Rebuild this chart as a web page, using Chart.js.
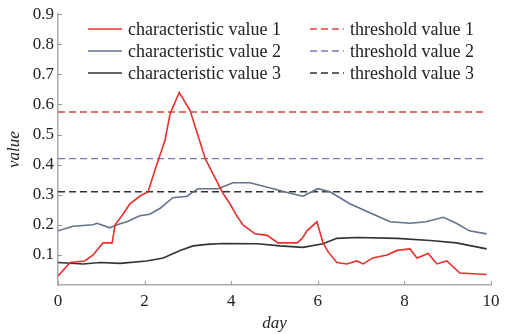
<!DOCTYPE html>
<html>
<head>
<meta charset="utf-8">
<script src="https://cdn.jsdelivr.net/npm/chart.js@4.4.0/dist/chart.umd.min.js"></script>
<style>
  html, body { margin: 0; padding: 0; background: #fff; }
  #wrap { width: 514px; height: 334px; }
</style>
</head>
<body>
<div id="wrap"><canvas id="myChart" width="514" height="334"></canvas></div>
<script>
// series 1 (red)
const dayRed = [0, 0.28, 0.62, 0.81, 1.04, 1.25, 1.32, 1.5, 1.66, 1.89, 2.08, 2.28, 2.47, 2.59, 2.8, 3.05, 3.28, 3.4, 3.63, 3.81, 3.97, 4.13, 4.27, 4.55, 4.83, 5.08, 5.52, 5.64, 5.75, 5.98, 6.12, 6.24, 6.44, 6.67, 6.9, 7.05, 7.27, 7.6, 7.83, 8.13, 8.29, 8.55, 8.75, 8.98, 9.28, 9.9];
const valRed = [0.03, 0.075, 0.08, 0.10, 0.14, 0.14, 0.20, 0.235, 0.27, 0.295, 0.31, 0.40, 0.48, 0.57, 0.64, 0.58, 0.475, 0.42, 0.355, 0.305, 0.27, 0.23, 0.20, 0.17, 0.165, 0.14, 0.14, 0.155, 0.18, 0.21, 0.14, 0.11, 0.075, 0.07, 0.08, 0.07, 0.09, 0.10, 0.115, 0.12, 0.09, 0.105, 0.07, 0.08, 0.04, 0.035];

// series 2 (slate)
const dayBlue = [0, 0.35, 0.81, 0.9, 1.2, 1.36, 1.59, 1.89, 2.12, 2.36, 2.65, 2.98, 3.23, 3.44, 3.7, 4.04, 4.43, 4.97, 5.36, 5.66, 6.0, 6.28, 6.74, 7.2, 7.67, 8.13, 8.5, 8.9, 9.2, 9.5, 9.9];
const valBlue = [0.18, 0.195, 0.20, 0.205, 0.19, 0.20, 0.21, 0.23, 0.235, 0.255, 0.29, 0.295, 0.32, 0.32, 0.32, 0.34, 0.34, 0.32, 0.305, 0.295, 0.32, 0.31, 0.27, 0.24, 0.21, 0.205, 0.21, 0.225, 0.205, 0.18, 0.17];

// series 3 (black)
const dayBlack = [0, 0.58, 0.97, 1.43, 2.05, 2.43, 2.82, 3.12, 3.44, 3.81, 4.6, 5.13, 5.66, 6.12, 6.44, 6.9, 7.83, 8.6, 9.2, 9.9];
const valBlack = [0.075, 0.07, 0.075, 0.072, 0.08, 0.09, 0.115, 0.13, 0.135, 0.138, 0.137, 0.13, 0.125, 0.137, 0.155, 0.158, 0.155, 0.148, 0.14, 0.12];

// thresholds
const thresholdDays = [0, 9.9];
const thresholds = [0.575, 0.42, 0.31];

const labels = [
    "characteristic value 1", "characteristic value 2", "characteristic value 3",
    "threshold value 1", "threshold value 2", "threshold value 3"
];

const xTicks = [0, 2, 4, 6, 8, 10];
const yTicks = [0.1, 0.2, 0.3, 0.4, 0.5, 0.6, 0.7, 0.8, 0.9];

const SERIF = "'Liberation Serif', 'DejaVu Serif', serif";

function pts(xs, ys){
    return xs.map(function(x, i){ return {x: x, y: ys[i]}; });
}
function flat(v){
    return thresholdDays.map(function(x){ return {x: x, y: v}; });
}

// legend drawn inside the plot, two columns
const innerLegend = {
    id: "innerLegend",
    afterDatasetsDraw(chart){
        const c = chart.ctx;
        const ds = chart.data.datasets;
        c.save();
        c.font = "18px " + SERIF;
        c.textBaseline = "middle";
        c.fillStyle = "#222";
        for (let i = 0; i < ds.length; i++){
            const col = Math.floor(i / 3);
            const row = i % 3;
            const lx = col === 0 ? 88 : 310;
            const y = 29 + row * 22;
            c.strokeStyle = ds[i].borderColor;
            c.lineWidth = 1.6;
            c.setLineDash(ds[i].borderDash || []);
            c.beginPath();
            c.moveTo(lx, y);
            c.lineTo(lx + 34, y);
            c.stroke();
            c.setLineDash([]);
            c.fillText(ds[i].label, lx + 40, y + 1);
        }
        // small inward ticks
        const xs = chart.scales.x, ys = chart.scales.y;
        c.strokeStyle = "#999";
        c.lineWidth = 1;
        xTicks.forEach(function(t){
            const px = Math.round(xs.getPixelForValue(t)) + 0.5;
            c.beginPath(); c.moveTo(px, ys.bottom); c.lineTo(px, ys.bottom - 4); c.stroke();
        });
        yTicks.forEach(function(t){
            const py = Math.round(ys.getPixelForValue(t)) + 0.5;
            c.beginPath(); c.moveTo(xs.left, py); c.lineTo(xs.left + 4, py); c.stroke();
        });
        c.restore();
    }
};

const ctx = document.getElementById("myChart");
const myChart = new Chart(ctx, {
    type: "line",
    data: {
        datasets: [
            { label: labels[0], data: pts(dayRed, valRed), borderColor: "#e8302c", borderWidth: 1.6 },
            { label: labels[1], data: pts(dayBlue, valBlue), borderColor: "#66708f", borderWidth: 1.6 },
            { label: labels[2], data: pts(dayBlack, valBlack), borderColor: "#333333", borderWidth: 1.6 },
            { label: labels[3], data: flat(thresholds[0]), borderColor: "#e8403c", borderWidth: 1.4, borderDash: [7, 4] },
            { label: labels[4], data: flat(thresholds[1]), borderColor: "#7a78b8", borderWidth: 1.4, borderDash: [7, 4] },
            { label: labels[5], data: flat(thresholds[2]), borderColor: "#333333", borderWidth: 1.4, borderDash: [7, 4] }
        ]
    },
    options: {
        responsive: false,
        animation: false,
        layout: { padding: { top: 11, right: 23, left: 0, bottom: 0 } },
        elements: { point: { radius: 0 }, line: { tension: 0 } },
        plugins: { legend: { display: false }, tooltip: { enabled: false } },
        scales: {
            x: {
                type: "linear",
                min: 0,
                max: 10,
                afterBuildTicks: function(s){ s.ticks = xTicks.map(function(v){ return {value: v}; }); },
                afterFit: function(s){ s.height = 49; },
                grid: { drawOnChartArea: false, drawTicks: false },
                border: { color: "#aaa", width: 1.5 },
                ticks: { color: "#222", font: { family: SERIF, size: 17 }, padding: 6, maxRotation: 0 },
                title: { display: true, text: "day", color: "#222", font: { family: SERIF, size: 17, style: "italic" }, padding: { top: 0, bottom: 0 } }
            },
            y: {
                min: 0,
                max: 0.9,
                afterBuildTicks: function(s){ s.ticks = yTicks.map(function(v){ return {value: v}; }); },
                afterFit: function(s){ s.width = 58; },
                grid: { drawOnChartArea: false, drawTicks: false },
                border: { color: "#aaa", width: 1.5 },
                ticks: {
                    color: "#222",
                    font: { family: SERIF, size: 17 },
                    padding: 4,
                    callback: function(v){ return v.toFixed(1); }
                },
                title: { display: true, text: "value", color: "#222", font: { family: SERIF, size: 17, style: "italic" }, padding: { top: 4, bottom: 0 } }
            }
        }
    },
    plugins: [innerLegend]
});
</script>
</body>
</html>
